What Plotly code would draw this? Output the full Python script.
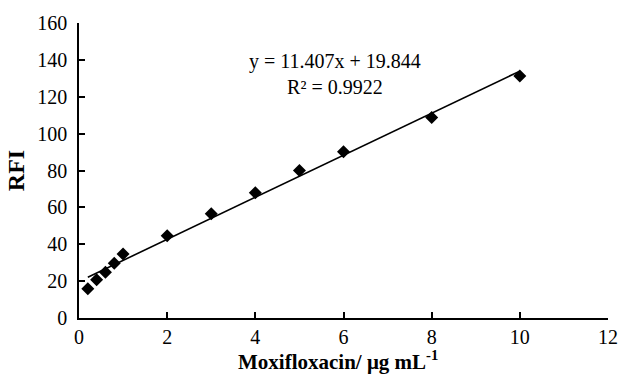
import numpy as np
import plotly.graph_objects as go

conc = [0.2, 0.4, 0.6, 0.8, 1.0, 2, 3, 4, 5, 6, 8, 10]
rfi = [15.8, 20.7, 24.8, 29.7, 34.7, 44.6, 56.6, 68.0, 80.0, 90.2, 108.7, 131.2]
slope = 11.407
intercept = 19.844
r2 = 0.9922
x_ticks = [0, 2, 4, 6, 8, 10, 12]
y_ticks = [0, 20, 40, 60, 80, 100, 120, 140, 160]

FONT = "Liberation Serif"

fit_x = [min(conc), max(conc)]
fit_y = [slope * v + intercept for v in fit_x]

fig = go.Figure()
fig.add_trace(go.Scatter(x=fit_x, y=fit_y, mode="lines",
                         line=dict(color="black", width=1.6), showlegend=False))
fig.add_trace(go.Scatter(x=conc, y=rfi, mode="markers",
                         marker=dict(symbol="diamond", size=10, color="black"),
                         showlegend=False))

fig.add_annotation(x=5.8, y=139.3, xref="x", yref="y",
                   text=f"y = {slope}x + {intercept}<br>R² = {r2}",
                   showarrow=False, align="center",
                   font=dict(family=FONT, size=20, color="black"),
                   yanchor="top", yshift=13)

# x-axis title placed as an annotation to match reference spacing
fig.add_annotation(x=0.49, y=0, xref="paper", yref="paper",
                   text="<b>Moxifloxacin/ μg mL<sup>-1</sup></b>",
                   showarrow=False, yanchor="top", yshift=-27,
                   font=dict(family=FONT, size=21, color="black"))

fig.update_layout(
    width=630, height=380,
    margin=dict(l=79, r=18, t=22, b=62),
    paper_bgcolor="white", plot_bgcolor="white",
    font=dict(family=FONT, size=20, color="black"),
)
fig.update_xaxes(range=[0, 12], tickvals=x_ticks, ticks="inside", ticklen=6,
                 tickwidth=1.5, tickcolor="black",
                 showline=True, linecolor="black", linewidth=1.5,
                 showgrid=False, zeroline=False)
fig.update_yaxes(range=[0, 160], tickvals=y_ticks, ticks="inside", ticklen=6,
                 tickwidth=1.5, tickcolor="black", ticklabelstandoff=6,
                 showline=True, linecolor="black", linewidth=1.5,
                 showgrid=False, zeroline=False,
                 title=dict(text="<b>RFI</b>",
                            font=dict(family=FONT, size=24), standoff=6))

fig.write_html("out.html")
